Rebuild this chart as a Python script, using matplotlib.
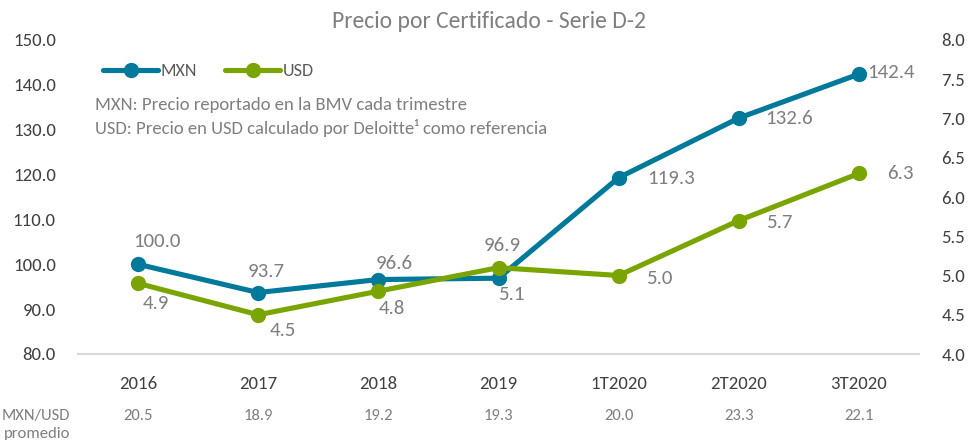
import numpy as np
import matplotlib
matplotlib.use("Agg")
import matplotlib.pyplot as plt
from matplotlib.lines import Line2D
from matplotlib.transforms import blended_transform_factory

periods = ["2016", "2017", "2018", "2019", "1T2020", "2T2020", "3T2020"]
price_mxn = [100.0, 93.7, 96.6, 96.9, 119.3, 132.6, 142.4]
price_usd = [4.9, 4.5, 4.8, 5.1, 5.0, 5.7, 6.3]
fx_avg = [20.5, 18.9, 19.2, 19.3, 20.0, 23.3, 22.1]

# label offsets (pixels, right / up) for each point
mxn_offsets = [(19, 23), (8, 21), (16, 16), (4, 33), (52, -1), (50, 0), (32, 2)]
usd_offsets = [(18, -20), (25, -16), (14, -17), (13, -27), (41, -3), (40, -2), (41, 0)]

BLUE = "#00799a"
GREEN = "#7aa500"
GRAY = "#7f7f7f"
DARK = "#404040"

plt.rcParams["font.family"] = ["Carlito", "Open Sans", "DejaVu Sans"]

fig = plt.figure(figsize=(9.68, 4.4), dpi=100)
ax = fig.add_axes([78 / 968, 86 / 440, 841 / 968, 314 / 440])
ax2 = ax.twinx()

x = np.arange(len(periods))
line_kw = dict(lw=3.7, marker="o", ms=10, solid_capstyle="round")
ax.plot(x, price_mxn, color=BLUE, **line_kw)
ax2.plot(x, price_usd, color=GREEN, **line_kw)

px = 72 / 100  # pixels -> points
for xi, v, (dx, dy) in zip(x, price_mxn, mxn_offsets):
    ax.annotate(f"{v:.1f}", (xi, v), xytext=(dx * px, dy * px), textcoords="offset points",
                ha="center", va="center", fontsize=15, color=GRAY)
for xi, v, (dx, dy) in zip(x, price_usd, usd_offsets):
    ax2.annotate(f"{v:.1f}", (xi, v), xytext=(dx * px, dy * px), textcoords="offset points",
                 ha="center", va="center", fontsize=15, color=GRAY)

ax.set_xlim(-0.5, len(periods) - 0.5)
ax.set_ylim(80, 150)
ax.set_yticks(np.arange(80, 151, 10))
ax.set_yticklabels([f"{t:.1f}" for t in np.arange(80, 151, 10)])
ax2.set_ylim(4, 8)
ax2.set_yticks(np.arange(4, 8.01, 0.5))
ax2.set_yticklabels([f"{t:.1f}" for t in np.arange(4, 8.01, 0.5)])

ax.set_xticks(x)
ax.set_xticklabels(periods, fontsize=13.5, color=DARK)
ax.tick_params(axis="x", length=0, pad=16)
ax.tick_params(axis="y", length=0, pad=16, labelsize=13.5, labelcolor=DARK)
ax2.tick_params(axis="y", length=0, pad=16, labelsize=13.5, labelcolor=DARK)

for a in (ax, ax2):
    for s in ("top", "left", "right"):
        a.spines[s].set_visible(False)
    a.spines["bottom"].set_color("#d9d9d9")
    a.spines["bottom"].set_linewidth(1.5)
ax2.spines["bottom"].set_visible(False)

# average exchange rate row under the categories
tr = blended_transform_factory(ax.transData, fig.transFigure)
for xi, v in zip(x, fx_avg):
    ax.text(xi, 1 - 416 / 440, f"{v:.1f}", transform=tr, ha="center", va="center",
            fontsize=12, color=GRAY)
fig.text(36 / 968, 1 - 416 / 440, "MXN/USD", ha="center", va="center",
         fontsize=12, color=GRAY)
fig.text(37 / 968, 1 - 434 / 440, "promedio", ha="center", va="center",
         fontsize=12, color=GRAY)

fig.text(489 / 968, 1 - 22 / 440, "Precio por Certificado - Serie D-2", ha="center",
         va="center", fontsize=17, color=GRAY)

handles = [Line2D([], [], color=BLUE, **line_kw), Line2D([], [], color=GREEN, **line_kw)]
ax.legend(handles, ["MXN", "USD"], loc="center left", bbox_to_anchor=(103 / 968, 1 - 71 / 440),
          bbox_transform=fig.transFigure, ncol=2, frameon=False, fontsize=13,
          handlelength=3.05, handletextpad=0.15, columnspacing=1.55, borderpad=0,
          borderaxespad=0, labelcolor="#595959")

fig.text(95 / 968, 1 - 105 / 440, "MXN: Precio reportado en la BMV cada trimestre",
         ha="left", va="center", fontsize=13.4, color=GRAY)
fig.text(95 / 968, 1 - 128 / 440, "USD: Precio en USD calculado por Deloitte\u00b9 como referencia",
         ha="left", va="center", fontsize=13.4, color=GRAY)

fig.savefig("out.png", dpi=100)
